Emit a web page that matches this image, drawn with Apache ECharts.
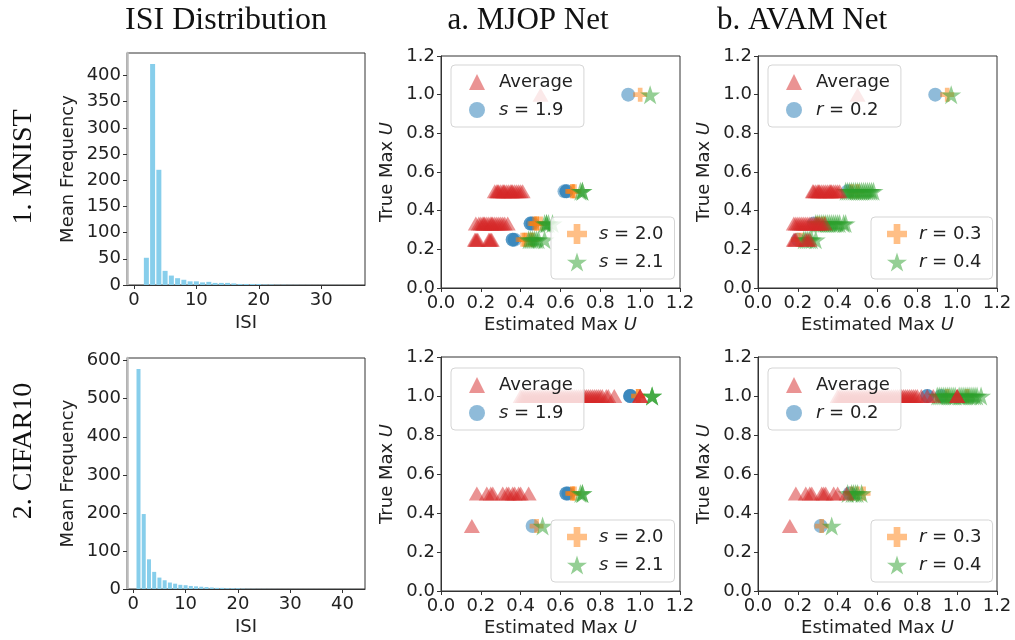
<!DOCTYPE html>
<html>
<head>
<meta charset="utf-8">
<title>ISI / Max U</title>
<script src="https://cdn.jsdelivr.net/npm/echarts@6/dist/echarts.min.js"></script>
<style>
  html, body { margin: 0; padding: 0; background: #fff; }
  #chart { width: 1015px; height: 640px; }
</style>
</head>
<body>
<div id="chart"></div>
<script>
// 直方图数据 (ISI 取值与平均频次)
let mnistIsi = [1, 2, 3, 4, 5, 6, 7, 8, 9, 10, 11, 12, 13, 14, 15, 16, 17, 18, 19, 20, 21, 22, 23, 24, 25, 26, 27, 28, 29, 30, 31, 32, 33, 34, 35]
let mnistFreq = [0, 52, 422, 220, 27, 18, 13, 10, 7, 7, 5, 6, 4, 4, 4, 3, 2, 2, 2, 2, 1, 1, 0.5, 0.5, 0.3, 0.3, 0.2, 0.2, 0.1, 0.1, 0.1, 0.1, 0.1, 0.1, 0.1]
let cifarIsi = [1, 2, 3, 4, 5, 6, 7, 8, 9, 10, 11, 12, 13, 14, 15, 16, 17, 18, 19, 20, 21, 22, 23, 24, 25, 26, 27, 28, 29, 30, 31, 32, 33, 34, 35, 36, 37, 38, 39, 40, 41, 42]
let cifarFreq = [578, 197, 78, 45, 30, 23, 17, 14, 11, 10, 8, 7, 6, 5, 4, 3, 3, 2, 2, 2, 1, 0.5, 0.5, 0.3, 0.3, 0.2, 0.2, 0.1, 0.1, 0.1, 0.1, 0.1, 0.1, 0.1, 0.1, 0.1, 0.1, 0.1, 0.1, 0.1, 0.1, 0.1]

// 刻度
let mnistFreqTicks = [0, 50, 100, 150, 200, 250, 300, 350, 400]
let cifarFreqTicks = [0, 100, 200, 300, 400, 500, 600]
let mnistIsiTicks = [0, 10, 20, 30]
let cifarIsiTicks = [0, 10, 20, 30, 40]
let uTicks = [0, 0.2, 0.4, 0.6, 0.8, 1.0, 1.2]

// 散点数据 [估计 Max U, 真实 Max U], 重复的点表示重叠
let mnistMjopAvg = [[0.50, 1],
  [0.27, 0.5], [0.28, 0.5], [0.285, 0.5], [0.29, 0.5], [0.30, 0.5], [0.31, 0.5], [0.315, 0.5], [0.32, 0.5], [0.33, 0.5], [0.34, 0.5], [0.35, 0.5], [0.355, 0.5], [0.36, 0.5], [0.37, 0.5], [0.38, 0.5], [0.39, 0.5], [0.40, 0.5], [0.41, 0.5],
  [0.175, 0.333], [0.19, 0.333], [0.20, 0.333], [0.21, 0.333], [0.215, 0.333], [0.22, 0.333], [0.23, 0.333], [0.24, 0.333], [0.25, 0.333], [0.255, 0.333], [0.26, 0.333], [0.27, 0.333], [0.28, 0.333], [0.29, 0.333], [0.30, 0.333], [0.31, 0.333], [0.32, 0.333], [0.335, 0.333],
  [0.17, 0.25], [0.175, 0.25], [0.18, 0.25], [0.185, 0.25], [0.24, 0.25], [0.245, 0.25], [0.25, 0.25], [0.255, 0.25]]
let mnistMjopS19 = [[0.94, 1], [0.63, 0.5], [0.63, 0.5], [0.62, 0.5], [0.45, 0.333], [0.45, 0.333], [0.46, 0.333], [0.36, 0.25], [0.36, 0.25], [0.37, 0.25]]
let mnistMjopS20 = [[1.00, 1], [0.66, 0.5], [0.66, 0.5], [0.67, 0.5], [0.47, 0.333], [0.48, 0.333], [0.48, 0.333], [0.50, 0.333],
  [0.41, 0.25], [0.42, 0.25], [0.43, 0.25], [0.45, 0.25], [0.46, 0.25]]
let mnistMjopS21 = [[1.05, 1], [0.71, 0.5], [0.70, 0.5], [0.71, 0.5], [0.52, 0.333], [0.53, 0.333], [0.53, 0.333], [0.54, 0.333], [0.56, 0.333],
  [0.44, 0.25], [0.45, 0.25], [0.46, 0.25], [0.47, 0.25], [0.48, 0.25], [0.49, 0.25], [0.52, 0.25]]

let mnistAvamAvg = [[0.50, 1],
  [0.275, 0.5], [0.28, 0.5], [0.29, 0.5], [0.30, 0.5], [0.305, 0.5], [0.31, 0.5], [0.32, 0.5], [0.33, 0.5], [0.34, 0.5], [0.35, 0.5], [0.36, 0.5], [0.365, 0.5], [0.37, 0.5], [0.38, 0.5], [0.39, 0.5], [0.40, 0.5], [0.41, 0.5],
  [0.18, 0.333], [0.19, 0.333], [0.20, 0.333], [0.21, 0.333], [0.22, 0.333], [0.23, 0.333], [0.24, 0.333], [0.25, 0.333], [0.26, 0.333], [0.27, 0.333], [0.28, 0.333], [0.29, 0.333], [0.30, 0.333], [0.31, 0.333], [0.32, 0.333], [0.335, 0.333],
  [0.18, 0.25], [0.185, 0.25], [0.19, 0.25], [0.24, 0.25], [0.25, 0.25], [0.26, 0.25]]
let mnistAvamR02 = [[0.89, 1], [0.45, 0.5], [0.28, 0.333], [0.20, 0.25]]
let mnistAvamR03 = [[0.95, 1], [0.47, 0.5], [0.50, 0.5], [0.30, 0.333], [0.33, 0.333], [0.20, 0.25], [0.22, 0.25]]
let mnistAvamR04 = [[0.97, 1],
  [0.44, 0.5], [0.45, 0.5], [0.46, 0.5], [0.47, 0.5], [0.48, 0.5], [0.49, 0.5], [0.50, 0.5], [0.51, 0.5], [0.52, 0.5], [0.53, 0.5], [0.54, 0.5], [0.55, 0.5], [0.56, 0.5], [0.57, 0.5], [0.58, 0.5],
  [0.29, 0.333], [0.30, 0.333], [0.31, 0.333], [0.32, 0.333], [0.33, 0.333], [0.34, 0.333], [0.35, 0.333], [0.36, 0.333], [0.37, 0.333], [0.38, 0.333], [0.39, 0.333], [0.40, 0.333], [0.41, 0.333], [0.43, 0.333], [0.44, 0.333],
  [0.23, 0.25], [0.24, 0.25], [0.25, 0.25], [0.26, 0.25], [0.27, 0.25], [0.29, 0.25]]

let cifarMjopAvg = [
  [0.40, 1], [0.41, 1], [0.42, 1], [0.43, 1], [0.44, 1], [0.45, 1], [0.46, 1], [0.47, 1], [0.48, 1], [0.49, 1], [0.50, 1], [0.51, 1], [0.52, 1], [0.53, 1], [0.54, 1], [0.55, 1],
  [0.56, 1], [0.57, 1], [0.58, 1], [0.59, 1], [0.60, 1], [0.61, 1], [0.62, 1], [0.63, 1], [0.64, 1], [0.65, 1], [0.66, 1], [0.67, 1], [0.68, 1], [0.69, 1], [0.70, 1], [0.71, 1],
  [0.72, 1], [0.73, 1], [0.74, 1], [0.75, 1], [0.76, 1], [0.77, 1], [0.78, 1], [0.79, 1], [0.80, 1], [0.81, 1], [0.83, 1], [0.84, 1], [0.87, 1], [1.00, 1], [1.00, 1], [1.00, 1],
  [0.18, 0.5], [0.23, 0.5], [0.25, 0.5], [0.26, 0.5], [0.31, 0.5], [0.33, 0.5], [0.34, 0.5], [0.36, 0.5], [0.37, 0.5], [0.39, 0.5], [0.40, 0.5], [0.44, 0.5],
  [0.155, 0.333]]
let cifarMjopS19 = [[0.95, 1], [0.95, 1], [0.95, 1], [0.63, 0.5], [0.63, 0.5], [0.64, 0.5], [0.46, 0.333]]
let cifarMjopS20 = [[0.99, 1], [0.99, 1], [0.66, 0.5], [0.66, 0.5], [0.67, 0.5], [0.48, 0.333]]
let cifarMjopS21 = [[1.06, 1], [1.06, 1], [1.06, 1], [0.71, 0.5], [0.70, 0.5], [0.71, 0.5], [0.51, 0.333]]

let cifarAvamAvg = [
  [0.40, 1], [0.41, 1], [0.42, 1], [0.43, 1], [0.44, 1], [0.45, 1], [0.46, 1], [0.47, 1], [0.48, 1], [0.49, 1], [0.50, 1], [0.51, 1], [0.52, 1], [0.53, 1], [0.54, 1], [0.55, 1],
  [0.56, 1], [0.57, 1], [0.58, 1], [0.59, 1], [0.60, 1], [0.61, 1], [0.62, 1], [0.63, 1], [0.64, 1], [0.65, 1], [0.66, 1], [0.67, 1], [0.68, 1], [0.69, 1], [0.70, 1], [0.71, 1],
  [0.72, 1], [0.73, 1], [0.74, 1], [0.75, 1], [0.76, 1], [0.77, 1], [0.78, 1], [0.79, 1], [0.80, 1], [0.82, 1], [0.85, 1], [0.88, 1], [1.00, 1], [1.00, 1], [1.00, 1],
  [0.19, 0.5], [0.24, 0.5], [0.26, 0.5], [0.27, 0.5], [0.32, 0.5], [0.33, 0.5], [0.34, 0.5], [0.38, 0.5], [0.40, 0.5], [0.445, 0.5],
  [0.16, 0.333]]
let cifarAvamR02 = [[0.85, 1], [0.85, 1], [0.92, 1], [0.46, 0.5], [0.315, 0.333]]
let cifarAvamR03 = [[0.95, 1], [1.05, 1], [0.47, 0.5], [0.50, 0.5], [0.53, 0.5], [0.32, 0.333]]
let cifarAvamR04 = [
  [0.90, 1], [0.91, 1], [0.92, 1], [0.93, 1], [0.94, 1], [0.95, 1], [0.96, 1], [0.97, 1], [0.98, 1], [0.99, 1], [1.01, 1], [1.02, 1],
  [1.03, 1], [1.04, 1], [1.05, 1], [1.06, 1], [1.07, 1], [1.08, 1], [1.09, 1], [1.10, 1], [1.12, 1],
  [0.45, 0.5], [0.47, 0.5], [0.48, 0.5], [0.49, 0.5], [0.50, 0.5], [0.52, 0.5], [0.37, 0.333]]

// 样式
const sans = 'DejaVu Sans'
const serif = 'Liberation Serif'
const cRed = 'rgba(214,39,40,0.5)'
const cBlue = 'rgba(31,119,180,0.5)'
const cOrange = 'rgba(255,127,14,0.5)'
const cGreen = 'rgba(44,160,44,0.5)'
const starPath = 'path://M50,0L61.2,34.6L97.6,34.6L68.1,55.9L79.4,90.5L50,69.1L20.6,90.5L31.9,55.9L2.4,34.6L38.8,34.6Z'
const plusPath = 'path://M4,0H8V4H12V8H8V12H4V8H0V4H4Z'

let grids = [
  { left: 127, top: 53, width: 238, height: 232 },
  { left: 127, top: 358, width: 238, height: 231 },
  { left: 441, top: 56, width: 239, height: 232 },
  { left: 758, top: 56, width: 239, height: 232 },
  { left: 441, top: 357, width: 239, height: 234 },
  { left: 758, top: 357, width: 239, height: 234 }
].map(g => Object.assign({ show: true, borderColor: '#333', borderWidth: 1, containLabel: false, outerBoundsMode: 'none' }, g))

const labelStyle = { fontFamily: sans, fontSize: 18, color: '#222' }
const nameStyle = { fontFamily: sans, fontSize: 18, color: '#222', rich: { i: { fontFamily: sans, fontSize: 18, fontStyle: 'italic', color: '#222' } } }

// 直方图坐标轴
const histX = (gi, min, max, ticks) => ({
  gridIndex: gi, type: 'value', min: min, max: max,
  name: 'ISI', nameLocation: 'middle', nameGap: 29, nameTextStyle: nameStyle,
  axisLine: { show: true, onZero: false, lineStyle: { color: '#333' } },
  axisTick: { show: true, length: 4, customValues: ticks, lineStyle: { color: '#333' } },
  axisLabel: Object.assign({ margin: 6, customValues: ticks }, labelStyle),
  splitLine: { show: false }
})
const histY = (gi, max, ticks) => ({
  gridIndex: gi, type: 'value', min: 0, max: max,
  name: 'Mean Frequency', nameLocation: 'middle', nameGap: 50, nameTextStyle: nameStyle,
  axisLine: { show: true, onZero: false, lineStyle: { color: '#bbb', width: 2.5 } },
  axisTick: { show: true, length: 4, customValues: ticks, lineStyle: { color: '#333' } },
  axisLabel: Object.assign({ margin: 6, customValues: ticks }, labelStyle),
  splitLine: { show: false }
})
// 散点坐标轴
const uAxis = (gi, isY) => ({
  gridIndex: gi, type: 'value', min: 0, max: 1.2,
  name: isY ? 'True Max {i|U}' : 'Estimated Max {i|U}',
  nameLocation: 'middle', nameGap: isY ? 45 : 28, nameTextStyle: nameStyle,
  axisLine: { show: true, onZero: false, lineStyle: { color: '#333' } },
  axisTick: { show: true, length: 4, customValues: uTicks, lineStyle: { color: '#333' } },
  axisLabel: Object.assign({ margin: 6, customValues: uTicks, formatter: v => v.toFixed(1) }, labelStyle),
  splitLine: { show: false }
})

const bars = (gi, isi, freq, w) => ({
  type: 'bar', xAxisIndex: gi, yAxisIndex: gi, barWidth: w,
  data: isi.map((x, i) => [x, freq[i]]),
  itemStyle: { color: '#87ceeb' }, silent: true
})
const dots = (gi, name, data, symbol, size, color) => ({
  type: 'scatter', name: name, xAxisIndex: gi, yAxisIndex: gi,
  data: data, symbol: symbol, symbolSize: size, symbolKeepAspect: false,
  itemStyle: { color: color, opacity: 1 }, silent: true
})
// 每个散点子图: 蓝, 橙, 绿, 红 (平均值在最上层)
const panel = (gi, names, avg, a, b, c) => [
  dots(gi, names[1], a, 'circle', 14, cBlue),
  dots(gi, names[2], b, plusPath, 14, cOrange),
  dots(gi, names[3], c, starPath, [20, 19], cGreen),
  dots(gi, names[0], avg, 'triangle', [16, 14], cRed)
]

const mjopNames = ['Average', 's = 1.9', 's = 2.0', 's = 2.1']
const avamNames = ['Average', 'r = 0.2', 'r = 0.3', 'r = 0.4']

// 图例: 图标为正方形, 文字用 padding 右移
const mkLegend = (names, icons, left, top, h) => ({
  orient: 'vertical', left: left, top: top,
  data: names.map((n, i) => ({ name: n, icon: icons[i] })),
  itemWidth: h, itemHeight: h, itemGap: 8, symbolKeepAspect: true,
  padding: [7, 11, 7, 26 - h / 2],
  backgroundColor: 'rgba(255,255,255,0.8)', borderColor: '#d5d5d5', borderWidth: 1, borderRadius: 4,
  selectedMode: false, z: 10,
  textStyle: { fontFamily: sans, fontSize: 18, color: '#222', lineHeight: 20, padding: [0, 0, 0, 17 - h / 2],
    rich: { i: { fontFamily: sans, fontSize: 18, fontStyle: 'italic', color: '#222', lineHeight: 20 } } },
  formatter: n => n.replace(/^([sr]) =/, '{i|$1} =')
})
const legendPair = (names, x1, y1, x2, y2) => [
  mkLegend(names.slice(0, 2), ['triangle', 'circle'], x1, y1, 16),
  mkLegend(names.slice(2), [plusPath, starPath], x2, y2, 20)
]

const titleText = (text, x, y, size, rot) => ({
  type: 'text', x: x, y: y, rotation: rot || 0,
  style: { text: text, fontFamily: serif, fontSize: size, fill: '#111',
    align: 'center', verticalAlign: 'middle', textAlign: 'center', textVerticalAlign: 'middle' }
})

let option = {
  animation: false,
  backgroundColor: '#fff',
  grid: grids,
  xAxis: [
    histX(0, -1.1, 37, mnistIsiTicks),
    histX(1, -1.2, 44.3, cifarIsiTicks),
    uAxis(2, false), uAxis(3, false), uAxis(4, false), uAxis(5, false)
  ],
  yAxis: [
    histY(0, 443, mnistFreqTicks),
    histY(1, 607, cifarFreqTicks),
    uAxis(2, true), uAxis(3, true), uAxis(4, true), uAxis(5, true)
  ],
  legend: [].concat(
    legendPair(mjopNames, 451, 65, 551, 217),
    legendPair(avamNames, 768, 65, 871, 217),
    legendPair(mjopNames, 451, 368, 551, 520),
    legendPair(avamNames, 768, 368, 871, 520)
  ),
  series: [].concat(
    [bars(0, mnistIsi, mnistFreq, 5), bars(1, cifarIsi, cifarFreq, 4)],
    panel(2, mjopNames, mnistMjopAvg, mnistMjopS19, mnistMjopS20, mnistMjopS21),
    panel(3, avamNames, mnistAvamAvg, mnistAvamR02, mnistAvamR03, mnistAvamR04),
    panel(4, mjopNames, cifarMjopAvg, cifarMjopS19, cifarMjopS20, cifarMjopS21),
    panel(5, avamNames, cifarAvamAvg, cifarAvamR02, cifarAvamR03, cifarAvamR04)
  ),
  graphic: [
    titleText('ISI Distribution', 226, 21, 32),
    titleText('a. MJOP Net', 528, 21, 31),
    titleText('b. AVAM Net', 802, 21, 31),
    titleText('1. MNIST', 24, 167, 28, Math.PI / 2),
    titleText('2. CIFAR10', 24, 451, 28, Math.PI / 2)
  ]
}

let myChart = echarts.init(document.getElementById('chart'), null, { renderer: 'canvas' })
option && myChart.setOption(option)
</script>
</body>
</html>
